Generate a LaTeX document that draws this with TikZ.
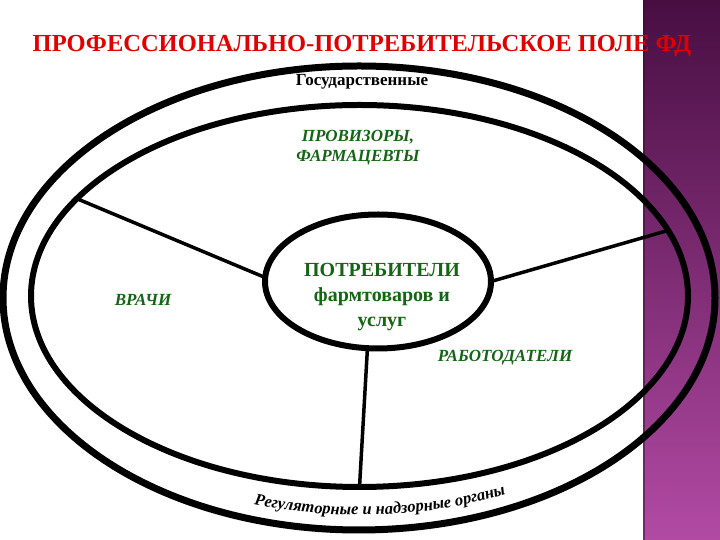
\documentclass[tikz,border=0pt]{standalone}
\usepackage{fontspec}
\setmainfont{Liberation Serif}[BoldFont={Liberation Serif Bold},ItalicFont={Liberation Serif Italic},BoldItalicFont={Liberation Serif Bold Italic}]
\usetikzlibrary{shapes.geometric,decorations.text}
\definecolor{titlered}{RGB}{225,0,0}
\definecolor{dgreen}{RGB}{22,100,22}
\definecolor{barTop}{RGB}{72,14,66}
\definecolor{barBot}{RGB}{178,74,164}
\begin{document}
\begin{tikzpicture}[x=1pt,y=1pt,
  ring/.style={draw=black, ellipse, inner sep=0pt, outer sep=0pt},
  conn/.style={draw=black, line width=3.5pt},
  lab/.style={text=dgreen, font=\bfseries\itshape\fontsize{17}{20}\selectfont, align=center, inner sep=0pt},
  blk/.style={text=black, font=\bfseries\fontsize{17}{20}\selectfont, inner sep=0pt},
]
\fill[white] (0,0) rectangle (720,540);
\useasboundingbox (0,0) rectangle (720,540);
% purple side bar
\shade[top color=barTop, bottom color=barBot] (643,0) rectangle (720,540);
\fill[barTop!80!black, opacity=0.5] (643,0) rectangle (645,540);
% rings
\node[ring, line width=7pt, minimum width=712pt, minimum height=464pt] (outer) at (359,242) {};
\node[ring, line width=6pt, minimum width=657pt, minimum height=382pt] (inner) at (359.5,244) {};
\node[ring, line width=6pt, minimum width=226pt, minimum height=134pt] (cons) at (378,258.5) {};
% connectors
\draw[conn] (inner.161.7) -- (cons.178);
\draw[conn] (cons.0) -- (inner.12);
\draw[conn] (cons.261) -- (inner.270);
% texts
\node[text=titlered, font=\bfseries\fontsize{24.5}{24.5}\selectfont, inner sep=0pt] (title) at (362,494) {ПРОФЕССИОНАЛЬНО-ПОТРЕБИТЕЛЬСКОЕ ПОЛЕ ФД};
\node[blk] (gos) at (362,458) {Государственные};
\node[lab] (prov) at (358,392) {ПРОВИЗОРЫ,\\ФАРМАЦЕВТЫ};
\node[lab] (vrachi) at (143,240) {ВРАЧИ};
\node[lab] (rabot) at (505,182) {РАБОТОДАТЕЛИ};
\node[text=dgreen, font=\bfseries\fontsize{20}{25}\selectfont, align=center, inner sep=0pt] (ctext) at (382,243) {ПОТРЕБИТЕЛИ\\фармтоваров и\\услуг};
% curved bottom label
\path[decorate, decoration={text along path, text align=center,
  text={|\bfseries\itshape\fontsize{16.5}{16.5}\selectfont|Регуляторные и надзорные органы}}]
  ([shift={(359,243)}]240:342 and 218) arc[start angle=240, end angle=308, x radius=342, y radius=218];
\end{tikzpicture}
\end{document}
